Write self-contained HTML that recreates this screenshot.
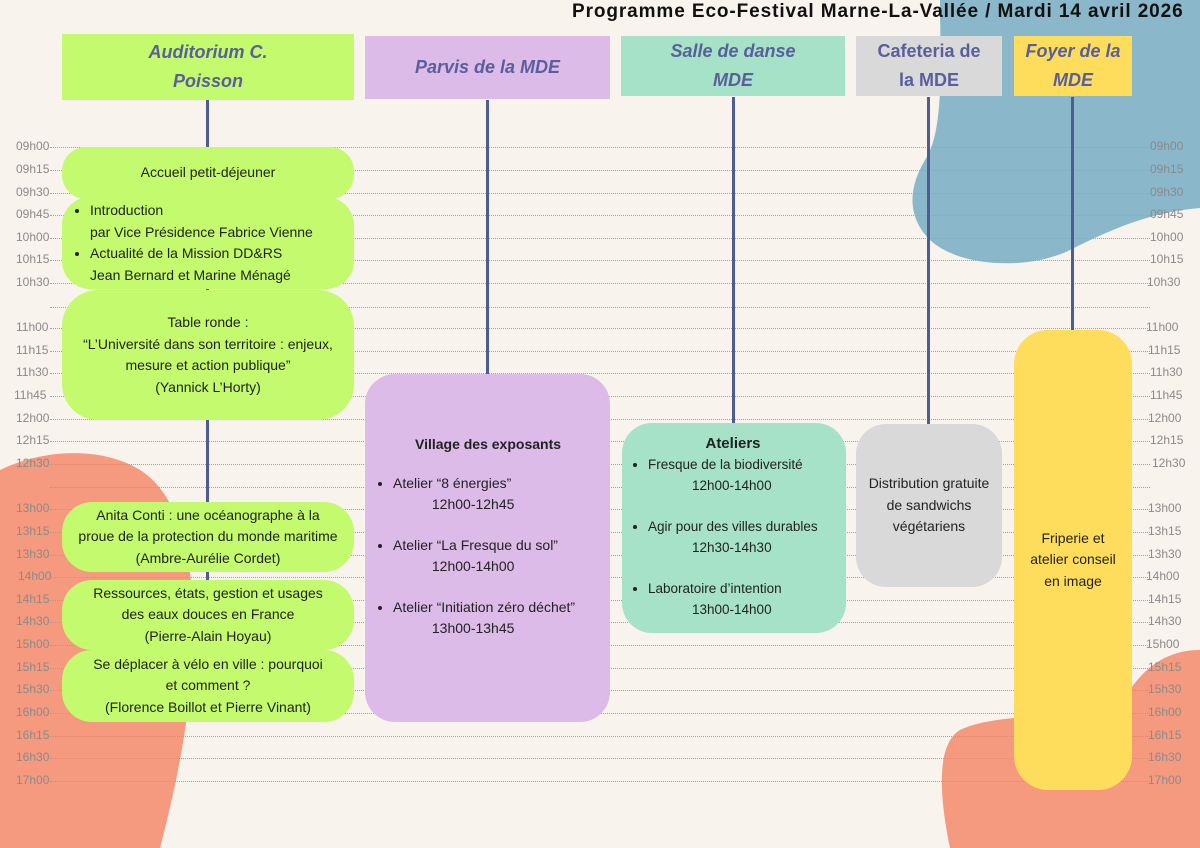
<!DOCTYPE html>
<html><head><meta charset="utf-8"><style>
*{margin:0;padding:0;box-sizing:border-box}
body{width:1200px;height:848px;background:#f9f3ee;position:relative;overflow:hidden;font-family:"Liberation Sans",sans-serif}
.a{position:absolute}
.t{position:absolute;font-size:12px;color:#8a8a8a;white-space:nowrap}
.dl{position:absolute;left:50px;width:1100px;border-top:1.5px dotted #a0a0a0;height:0}
.h{position:absolute;display:flex;align-items:center;justify-content:center;text-align:center;color:#5a5f9c;font-weight:bold;font-style:italic;font-size:18px;line-height:29px}
.v{position:absolute;width:3px;background:#4f5b93}
.b{position:absolute;font-size:14px;color:#222;text-align:center;line-height:21.5px;display:flex;flex-direction:column;justify-content:center}
ul{list-style:disc;text-align:left}
</style></head><body>
<svg class="a" style="left:0;top:0" width="1200" height="848">
<path d="M940 0 L1200 0 L1200 208 C1150 212 1110 230 1070 250 C1030 270 960 268 930 240 C905 215 910 185 925 160 C945 130 940 60 940 0Z" fill="#8ab7c9"/>
<path d="M0 470 C40 450 100 445 140 470 C180 495 195 560 193 640 C191 720 175 790 160 848 L0 848Z" fill="#f59a7e"/>
<path d="M1200 650 C1150 650 1130 690 1120 705 C1100 720 1000 710 960 730 C935 745 940 800 950 848 L1200 848Z" fill="#f59a7e"/>
</svg>
<div class="a" style="left:572px;top:1px;font-size:19px;letter-spacing:0.9px;font-weight:bold;color:#111;white-space:nowrap">Programme Eco-Festival Marne-La-Vallée / Mardi 14 avril 2026</div>

<div class="dl" style="top:147px"></div><div class="dl" style="top:170px"></div><div class="dl" style="top:193px"></div><div class="dl" style="top:215px"></div><div class="dl" style="top:238px"></div><div class="dl" style="top:260px"></div><div class="dl" style="top:283px"></div><div class="dl" style="top:307px"></div><div class="dl" style="top:328px"></div><div class="dl" style="top:351px"></div><div class="dl" style="top:373px"></div><div class="dl" style="top:396px"></div><div class="dl" style="top:419px"></div><div class="dl" style="top:441px"></div><div class="dl" style="top:464px"></div><div class="dl" style="top:487px"></div><div class="dl" style="top:509px"></div><div class="dl" style="top:532px"></div><div class="dl" style="top:555px"></div><div class="dl" style="top:577px"></div><div class="dl" style="top:600px"></div><div class="dl" style="top:622px"></div><div class="dl" style="top:645px"></div><div class="dl" style="top:668px"></div><div class="dl" style="top:690px"></div><div class="dl" style="top:713px"></div><div class="dl" style="top:736px"></div><div class="dl" style="top:758px"></div><div class="dl" style="top:781px"></div>

<div class="t" style="left:16px;top:139px">09h00</div><div class="t" style="left:16px;top:162px">09h15</div><div class="t" style="left:16px;top:185px">09h30</div><div class="t" style="left:16px;top:207px">09h45</div><div class="t" style="left:16px;top:230px">10h00</div><div class="t" style="left:16px;top:252px">10h15</div><div class="t" style="left:16px;top:275px">10h30</div><div class="t" style="left:16px;top:320px">11h00</div><div class="t" style="left:16px;top:343px">11h15</div><div class="t" style="left:16px;top:365px">11h30</div><div class="t" style="left:14px;top:388px">11h45</div><div class="t" style="left:16px;top:411px">12h00</div><div class="t" style="left:16px;top:433px">12h15</div><div class="t" style="left:16px;top:456px">12h30</div><div class="t" style="left:16px;top:501px">13h00</div><div class="t" style="left:16px;top:524px">13h15</div><div class="t" style="left:16px;top:547px">13h30</div><div class="t" style="left:18px;top:569px">14h00</div><div class="t" style="left:16px;top:592px">14h15</div><div class="t" style="left:16px;top:614px">14h30</div><div class="t" style="left:16px;top:637px">15h00</div><div class="t" style="left:16px;top:660px">15h15</div><div class="t" style="left:16px;top:682px">15h30</div><div class="t" style="left:16px;top:705px">16h00</div><div class="t" style="left:16px;top:728px">16h15</div><div class="t" style="left:16px;top:750px">16h30</div><div class="t" style="left:16px;top:773px">17h00</div>

<div class="t" style="left:1150px;top:139px">09h00</div><div class="t" style="left:1150px;top:162px">09h15</div><div class="t" style="left:1150px;top:185px">09h30</div><div class="t" style="left:1150px;top:207px">09h45</div><div class="t" style="left:1150px;top:230px">10h00</div><div class="t" style="left:1150px;top:252px">10h15</div><div class="t" style="left:1147px;top:275px">10h30</div><div class="t" style="left:1146px;top:320px">11h00</div><div class="t" style="left:1148px;top:343px">11h15</div><div class="t" style="left:1150px;top:365px">11h30</div><div class="t" style="left:1150px;top:388px">11h45</div><div class="t" style="left:1148px;top:411px">12h00</div><div class="t" style="left:1150px;top:433px">12h15</div><div class="t" style="left:1152px;top:456px">12h30</div><div class="t" style="left:1148px;top:501px">13h00</div><div class="t" style="left:1148px;top:524px">13h15</div><div class="t" style="left:1148px;top:547px">13h30</div><div class="t" style="left:1146px;top:569px">14h00</div><div class="t" style="left:1148px;top:592px">14h15</div><div class="t" style="left:1148px;top:614px">14h30</div><div class="t" style="left:1146px;top:637px">15h00</div><div class="t" style="left:1148px;top:660px">15h15</div><div class="t" style="left:1148px;top:682px">15h30</div><div class="t" style="left:1148px;top:705px">16h00</div><div class="t" style="left:1148px;top:728px">16h15</div><div class="t" style="left:1148px;top:750px">16h30</div><div class="t" style="left:1148px;top:773px">17h00</div>

<div class="v" style="left:206px;top:100px;height:480px"></div>
<div class="v" style="left:486px;top:100px;height:280px"></div>
<div class="v" style="left:732px;top:97px;height:330px"></div>
<div class="v" style="left:927px;top:97px;height:330px"></div>
<div class="v" style="left:1071px;top:97px;height:235px"></div>

<div class="h" style="left:62px;top:34px;width:292px;height:66px;background:#c4fa6d">Auditorium C.<br>Poisson</div>
<div class="h" style="left:365px;top:36px;width:245px;height:63px;background:#dcbbe8">Parvis de la MDE</div>
<div class="h" style="left:621px;top:36px;width:224px;height:60px;background:#a5e2c7">Salle de danse<br>MDE</div>
<div class="h" style="left:856px;top:36px;width:146px;height:60px;background:#d9d9d9;font-style:normal">Cafeteria de<br>la MDE</div>
<div class="h" style="left:1014px;top:36px;width:118px;height:60px;background:#fedd5c">Foyer de la<br>MDE</div>

<div class="b" style="left:62px;top:147px;width:292px;height:52px;background:#c4fa6d;border-radius:24px">Accueil petit-déjeuner</div>
<div class="b" style="left:62px;top:197px;width:292px;height:92px;background:#c4fa6d;border-radius:28px;align-items:flex-start;padding-left:28px"><ul><li>Introduction<br>par Vice Présidence Fabrice Vienne</li><li>Actualité de la Mission DD&amp;RS<br>Jean Bernard et Marine Ménagé</li></ul></div>
<div class="b" style="left:62px;top:290px;width:292px;height:130px;background:#c4fa6d;border-radius:36px">Table ronde :<br>“L’Université dans son territoire : enjeux,<br>mesure et action publique”<br>(Yannick L’Horty)</div>
<div class="b" style="left:62px;top:502px;width:292px;height:70px;background:#c4fa6d;border-radius:30px">Anita Conti : une océanographe à la<br>proue de la protection du monde maritime<br>(Ambre-Aurélie Cordet)</div>
<div class="b" style="left:62px;top:580px;width:292px;height:70px;background:#c4fa6d;border-radius:30px">Ressources, états, gestion et usages<br>des eaux douces en France<br>(Pierre-Alain Hoyau)</div>
<div class="b" style="left:62px;top:650px;width:292px;height:72px;background:#c4fa6d;border-radius:30px">Se déplacer à vélo en ville : pourquoi<br>et comment ?<br>(Florence Boillot et Pierre Vinant)</div>

<div class="b" style="left:365px;top:374px;width:245px;height:348px;background:#dcbbe8;border-radius:30px;justify-content:flex-start;padding-top:60px;align-items:flex-start;padding-left:28px;line-height:21px">
<div style="font-weight:bold;width:190px;text-align:center;margin-bottom:18px">Village des exposants</div>
<ul style="padding-left:0"><li style="margin-bottom:20px">Atelier “8 énergies”<br>&nbsp;&nbsp;&nbsp;&nbsp;&nbsp;&nbsp;&nbsp;&nbsp;&nbsp;&nbsp;12h00-12h45</li><li style="margin-bottom:20px">Atelier “La Fresque du sol”<br>&nbsp;&nbsp;&nbsp;&nbsp;&nbsp;&nbsp;&nbsp;&nbsp;&nbsp;&nbsp;12h00-14h00</li><li>Atelier “Initiation zéro déchet”<br>&nbsp;&nbsp;&nbsp;&nbsp;&nbsp;&nbsp;&nbsp;&nbsp;&nbsp;&nbsp;13h00-13h45</li></ul></div>

<div class="b" style="left:622px;top:423px;width:224px;height:210px;background:#a5e2c7;border-radius:30px;justify-content:flex-start;padding-top:10px;align-items:flex-start;padding-left:26px;font-size:13.5px;line-height:21px">
<div style="font-weight:bold;width:170px;text-align:center;font-size:15px">Ateliers</div>
<ul><li style="margin-bottom:20px">Fresque de la biodiversité<br><span style="padding-left:44px">12h00-14h00</span></li><li style="margin-bottom:20px">Agir pour des villes durables<br><span style="padding-left:44px">12h30-14h30</span></li><li>Laboratoire d’intention<br><span style="padding-left:44px">13h00-14h00</span></li></ul></div>

<div class="b" style="left:856px;top:424px;width:146px;height:163px;background:#d9d9d9;border-radius:30px">Distribution gratuite<br>de sandwichs<br>végétariens</div>
<div class="b" style="left:1014px;top:330px;width:118px;height:460px;background:#fedd5c;border-radius:34px">Friperie et<br>atelier conseil<br>en image</div>
</body></html>
